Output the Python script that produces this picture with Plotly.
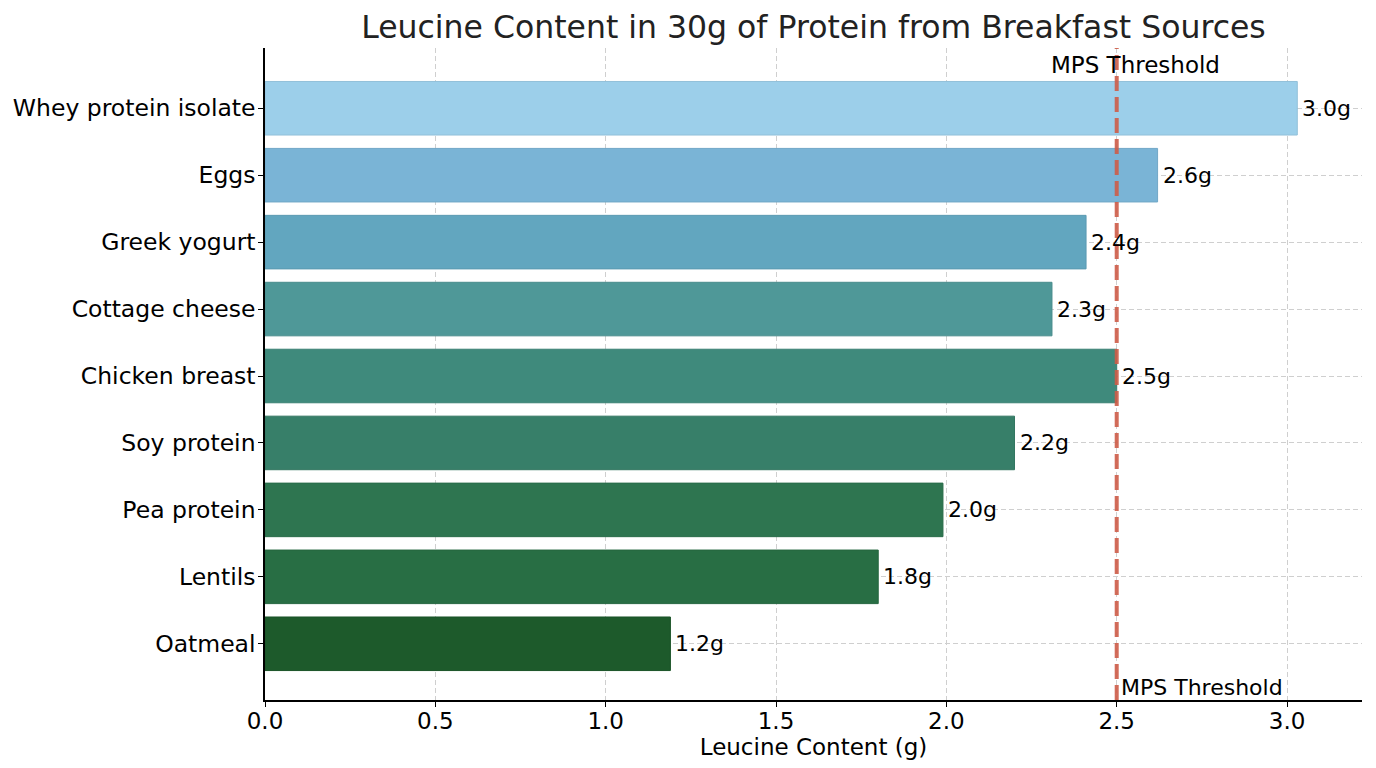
import plotly.graph_objects as go

foods = ["Whey protein isolate", "Eggs", "Greek yogurt", "Cottage cheese",
         "Chicken breast", "Soy protein", "Pea protein", "Lentils", "Oatmeal"]
leucine = [3.03, 2.62, 2.41, 2.31, 2.50, 2.20, 1.99, 1.80, 1.19]
bar_colors = ["#9ccfea", "#7ab4d6", "#62a6bf", "#4f9898", "#3f8a7c",
              "#377f69", "#2e7550", "#286e44", "#1d5a2b"]
threshold = 2.5
x_ticks = [0.0, 0.5, 1.0, 1.5, 2.0, 2.5, 3.0]

FONT = "DejaVu Sans"
# page body has an 8px margin in the browser; size the figure to fit the viewport
W, H = 1360, 752


def shade(h, f):
    h = h.lstrip("#")
    r, g, b = (int(h[i:i + 2], 16) for i in (0, 2, 4))
    return "rgb(%d,%d,%d)" % (int(r * f), int(g * f), int(b * f))


fig = go.Figure()
fig.add_trace(go.Bar(
    y=foods, x=leucine, orientation="h", width=0.8,
    marker=dict(color=bar_colors,
                line=dict(color=[shade(c, 0.93) for c in bar_colors], width=1)),
    hoverinfo="x+y", showlegend=False,
))

for f, v in zip(foods, leucine):
    fig.add_annotation(x=v, y=f, xref="x", yref="y", text=f"{v:.1f}g",
                       showarrow=False, xanchor="left", yanchor="middle", xshift=3,
                       font=dict(family=FONT, size=22, color="black"))

fig.add_shape(type="line", xref="x", yref="paper", x0=threshold, x1=threshold,
              y0=0, y1=1, line=dict(color="rgba(205,92,72,0.9)", width=4, dash="15px,6px"),
              layer="above")

fig.add_annotation(x=threshold, y=1, xref="x", yref="paper", text="MPS Threshold",
                   showarrow=False, xanchor="center", yanchor="middle", xshift=19, yshift=-17,
                   font=dict(family=FONT, size=23, color="black"))
fig.add_annotation(x=threshold, y=0, xref="x", yref="paper", text="MPS Threshold",
                   showarrow=False, xanchor="left", yanchor="bottom", xshift=2, yshift=-2,
                   font=dict(family=FONT, size=22, color="black"))

fig.update_layout(
    width=W, height=H,
    margin=dict(l=257, r=6, t=40, b=60, autoexpand=False),
    paper_bgcolor="white", plot_bgcolor="white",
    font=dict(family=FONT, color="black"),
    title=dict(text="Leucine Content in 30g of Protein from Breakfast Sources",
               x=0.5, xanchor="center", xref="paper", y=1 - 19 / H, yanchor="middle",
               font=dict(family=FONT, size=31.5, color="#222222")),
    bargap=0.2,
)
fig.update_xaxes(range=[0, 3.22], tickvals=x_ticks, ticktext=[f"{t:.1f}" for t in x_ticks],
                 automargin=False,
                 showline=True, linecolor="black", linewidth=1.5,
                 ticks="outside", ticklen=5, tickcolor="black", ticklabelstandoff=-5,
                 showgrid=True, gridcolor="#cfcfcf", griddash="5px,3px", gridwidth=1,
                 zeroline=False, mirror=False,
                 tickfont=dict(family=FONT, size=23, color="black"),
                 title=dict(text="Leucine Content (g)", standoff=0,
                            font=dict(family=FONT, size=23, color="black")))
fig.update_yaxes(range=[8.84, -0.9], automargin=False,
                 showline=True, linecolor="black", linewidth=1.5,
                 ticks="outside", ticklen=5, tickcolor="black", ticklabelstandoff=-2,
                 showgrid=True, gridcolor="#cfcfcf", griddash="5px,3px", gridwidth=1,
                 zeroline=False,
                 tickfont=dict(family=FONT, size=23.5, color="black"))

fig.write_html("out.html")
